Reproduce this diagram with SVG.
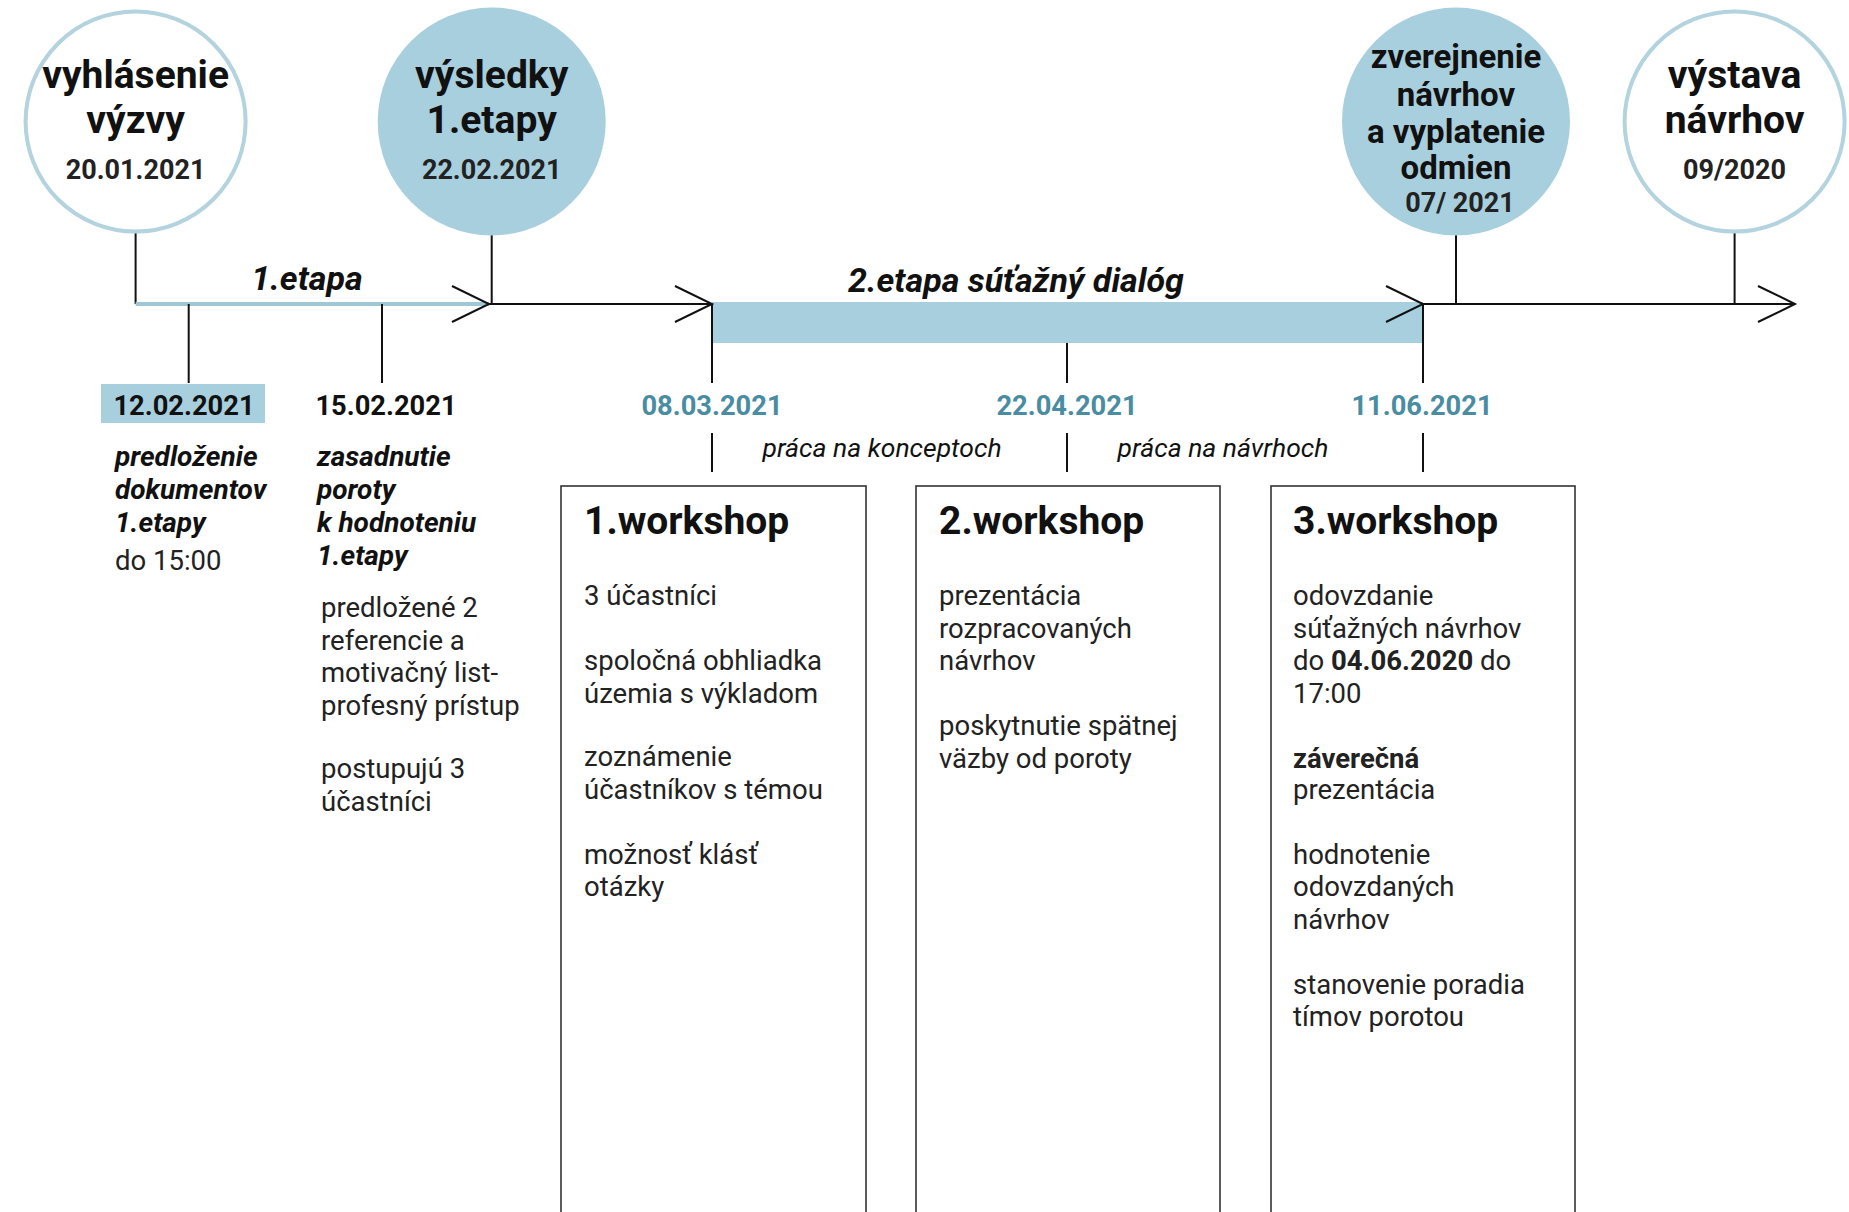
<svg xmlns="http://www.w3.org/2000/svg" width="1849" height="1212" viewBox="0 0 1849 1212">
<style>
text{font-family:Roboto,"Liberation Sans",sans-serif;fill:#111}
.ct{font-weight:700;text-anchor:middle;font-size:39px}
.ct3{font-weight:700;text-anchor:middle;font-size:33px}
.cd{font-weight:700;text-anchor:middle;font-size:27px;fill:#222}
.dt{font-weight:700;text-anchor:middle;font-size:27.3px}
.tl{fill:#4a8ca1}
.bi{font-weight:700;font-style:italic;font-size:28px}
.it{font-style:italic;font-size:26.5px;text-anchor:middle}
.rg{font-size:27.5px;fill:#222}
.wt{font-weight:700;font-size:39px}
.ph{font-weight:700;font-style:italic;font-size:34px;text-anchor:middle}
.ln{stroke:#111;stroke-width:2;fill:none}
.box{fill:#fff;stroke:#333;stroke-width:1.6}
</style>
<rect width="1849" height="1212" fill="#fff"/>
<g id="connectors">
<rect x="712" y="302" width="711" height="41" fill="#a8cfdd"/>
<line x1="135.6" y1="232" x2="135.6" y2="304" class="ln"/>
<line x1="135.6" y1="304" x2="489" y2="304" stroke="#9fc8d6" stroke-width="4"/>
<line x1="489" y1="304" x2="712" y2="304" class="ln"/>
<line x1="1423" y1="304" x2="1795" y2="304" class="ln"/>
<polyline points="452,286 489,304 452,322" class="ln"/>
<polyline points="675,286 712,304 675,322" class="ln"/>
<polyline points="1386,286 1423,304 1386,322" class="ln"/>
<polyline points="1758,286 1795,304 1758,322" class="ln"/>
<line x1="491.7" y1="235" x2="491.7" y2="304" class="ln"/>
<line x1="1456" y1="235" x2="1456" y2="304" class="ln"/>
<line x1="1734.6" y1="232" x2="1734.6" y2="304" class="ln"/>
<line x1="188.7" y1="304" x2="188.7" y2="383" class="ln"/>
<line x1="382" y1="304" x2="382" y2="383" class="ln"/>
<line x1="712" y1="304" x2="712" y2="383" class="ln"/>
<line x1="1067" y1="343" x2="1067" y2="383" class="ln"/>
<line x1="1423" y1="304" x2="1423" y2="383" class="ln"/>
<line x1="712" y1="433" x2="712" y2="472" class="ln"/>
<line x1="1067" y1="433" x2="1067" y2="472" class="ln"/>
<line x1="1423" y1="433" x2="1423" y2="472" class="ln"/>
</g>
<g id="node-vyhlasenie">
<circle cx="135.6" cy="121.5" r="110" fill="#fff" stroke="#b3d3de" stroke-width="4"/>
<text class="ct" x="135.6" y="88">vyhlásenie</text>
<text class="ct" x="135.6" y="133">výzvy</text>
<text class="cd" x="135.6" y="179">20.01.2021</text>
</g>
<g id="node-vysledky">
<circle cx="491.7" cy="121.5" r="114" fill="#a8cfdd"/>
<text class="ct" x="491.7" y="88">výsledky</text>
<text class="ct" x="491.7" y="133">1.etapy</text>
<text class="cd" x="491.7" y="179">22.02.2021</text>
</g>
<g id="node-zverejnenie">
<circle cx="1456" cy="121.5" r="114" fill="#a8cfdd"/>
<text class="ct3" x="1456" y="68">zverejnenie</text>
<text class="ct3" x="1456" y="106">návrhov</text>
<text class="ct3" x="1456" y="143">a vyplatenie</text>
<text class="ct3" x="1456" y="179">odmien</text>
<text class="cd" x="1460" y="212">07/ 2021</text>
</g>
<g id="node-vystava">
<circle cx="1734.6" cy="121.5" r="110" fill="#fff" stroke="#b3d3de" stroke-width="4"/>
<text class="ct" x="1734.6" y="88">výstava</text>
<text class="ct" x="1734.6" y="133">návrhov</text>
<text class="cd" x="1734.6" y="179">09/2020</text>
</g>
<g id="phase-labels">
<text class="ph" x="307" y="290">1.etapa</text>
<text class="ph" x="1016" y="292">2.etapa súťažný dialóg</text>
<text class="it" x="882" y="457">práca na konceptoch</text>
<text class="it" x="1223" y="457">práca na návrhoch</text>
</g>
<g id="node-12-02">
<rect x="101" y="384" width="164" height="39" fill="#a8cfdd"/>
<text class="dt" x="184" y="415">12.02.2021</text>
<text class="bi" x="115" y="466">predloženie</text>
<text class="bi" x="115" y="499">dokumentov</text>
<text class="bi" x="115" y="532">1.etapy</text>
<text class="rg" x="115" y="570">do 15:00</text>
</g>
<g id="node-15-02">
<text class="dt" x="386" y="415">15.02.2021</text>
<text class="bi" x="317" y="466">zasadnutie</text>
<text class="bi" x="317" y="499">poroty</text>
<text class="bi" x="317" y="532">k hodnoteniu</text>
<text class="bi" x="317" y="565">1.etapy</text>
<text class="rg" x="321" y="617">predložené 2</text>
<text class="rg" x="321" y="650">referencie a</text>
<text class="rg" x="321" y="682">motivačný list-</text>
<text class="rg" x="321" y="715">profesný prístup</text>
<text class="rg" x="321" y="778">postupujú 3</text>
<text class="rg" x="321" y="811">účastníci</text>
</g>
<g id="node-workshop1">
<text class="dt tl" x="712" y="415">08.03.2021</text>
<rect class="box" x="561" y="486" width="305" height="740"/>
<text class="wt" x="584" y="534">1.workshop</text>
<text class="rg" x="584" y="605">3 účastníci</text>
<text class="rg" x="584" y="670">spoločná obhliadka</text>
<text class="rg" x="584" y="703">územia s výkladom</text>
<text class="rg" x="584" y="766">zoznámenie</text>
<text class="rg" x="584" y="799">účastníkov s témou</text>
<text class="rg" x="584" y="864">možnosť klásť</text>
<text class="rg" x="584" y="896">otázky</text>
</g>
<g id="node-workshop2">
<text class="dt tl" x="1067" y="415">22.04.2021</text>
<rect class="box" x="916" y="486" width="304" height="740"/>
<text class="wt" x="939" y="534">2.workshop</text>
<text class="rg" x="939" y="605">prezentácia</text>
<text class="rg" x="939" y="638">rozpracovaných</text>
<text class="rg" x="939" y="670">návrhov</text>
<text class="rg" x="939" y="735">poskytnutie spätnej</text>
<text class="rg" x="939" y="768">väzby od poroty</text>
</g>
<g id="node-workshop3">
<text class="dt tl" x="1422" y="415">11.06.2021</text>
<rect class="box" x="1271" y="486" width="304" height="740"/>
<text class="wt" x="1293" y="534">3.workshop</text>
<text class="rg" x="1293" y="605">odovzdanie</text>
<text class="rg" x="1293" y="638">súťažných návrhov</text>
<text class="rg" x="1293" y="670">do <tspan font-weight="700">04.06.2020</tspan> do</text>
<text class="rg" x="1293" y="703">17:00</text>
<text class="rg" x="1293" y="768" font-weight="700">záverečná</text>
<text class="rg" x="1293" y="799">prezentácia</text>
<text class="rg" x="1293" y="864">hodnotenie</text>
<text class="rg" x="1293" y="896">odovzdaných</text>
<text class="rg" x="1293" y="929">návrhov</text>
<text class="rg" x="1293" y="994">stanovenie poradia</text>
<text class="rg" x="1293" y="1026">tímov porotou</text>
</g>
</svg>
